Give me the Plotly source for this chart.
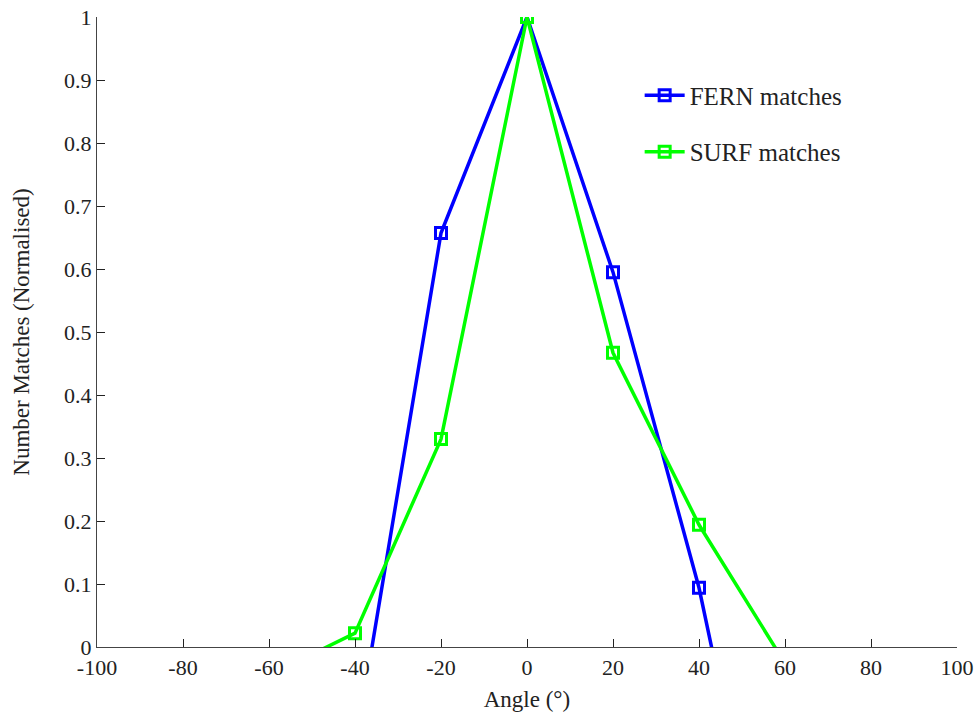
import plotly.graph_objects as go

angles = [-60, -40, -20, 0, 20, 40, 60]
fern_matches = [-0.98, -0.16, 0.657, 1.0, 0.595, 0.094, -0.55]
surf_matches = [-0.045, 0.022, 0.330, 1.0, 0.467, 0.194, -0.026]
x_ticks = [-100, -80, -60, -40, -20, 0, 20, 40, 60, 80, 100]
y_ticks = [0, 0.1, 0.2, 0.3, 0.4, 0.5, 0.6, 0.7, 0.8, 0.9, 1]

FONT = "Liberation Serif"
TXT = "#222222"

fig = go.Figure()
fig.add_trace(go.Scatter(
    x=angles, y=fern_matches, name="FERN matches", mode="lines+markers",
    line=dict(color="#0000ff", width=3.5),
    marker=dict(symbol="square-open", size=11, color="#0000ff", line=dict(width=3, color="#0000ff")),
    legendgroup="a", cliponaxis=True))
fig.add_trace(go.Scatter(
    x=angles, y=surf_matches, name="SURF matches", mode="lines+markers",
    line=dict(color="#00ff00", width=3.5),
    marker=dict(symbol="square-open", size=11, color="#00ff00", line=dict(width=3, color="#00ff00")),
    legendgroup="b", cliponaxis=True))

axis_common = dict(
    showgrid=False, zeroline=False, showline=True, linecolor="#444444", linewidth=1.2,
    ticks="inside", ticklen=8, tickcolor="#222222", tickwidth=1.2,
    tickfont=dict(family=FONT, size=22, color=TXT), mirror=False, automargin=False,
)
fig.update_xaxes(range=[-100, 100], tickvals=x_ticks, ticktext=[str(v) for v in x_ticks],
                 title=dict(text="Angle (°)", font=dict(family=FONT, size=23, color=TXT), standoff=12),
                 **axis_common)
fig.update_yaxes(range=[0, 1], tickvals=y_ticks, ticktext=[f"{v:g}" for v in y_ticks],
                 title=dict(text="Number Matches (Normalised)", font=dict(family=FONT, size=23, color=TXT), standoff=27),
                 **axis_common)

fig.update_layout(
    width=975, height=716,
    margin=dict(l=97, r=18, t=17, b=69),
    plot_bgcolor="white", paper_bgcolor="white",
    font=dict(family=FONT, size=22, color=TXT),
    legend=dict(x=0.631, y=0.912, xanchor="left", yanchor="top",
                bgcolor="rgba(0,0,0,0)", traceorder="grouped", tracegroupgap=21,
                font=dict(family=FONT, size=25, color=TXT), itemwidth=40),
)

fig.write_html("out.html", config={"displayModeBar": False},
               post_script="document.body.style.margin='0';document.body.style.overflow='hidden';")
